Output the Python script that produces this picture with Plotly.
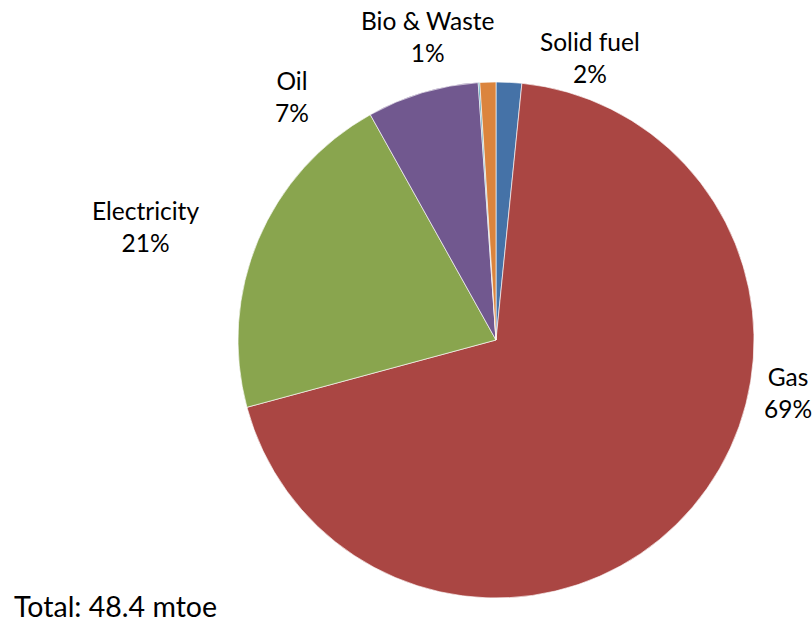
import plotly.graph_objects as go

# Final energy consumption shares by fuel (%)
fuels = ["Solid fuel", "Gas", "Electricity", "Oil", "Heat", "Bio & Waste"]
shares = [1.6, 69.2, 21.1, 7.0, 0.1, 1.0]
colors = ["#4572A7", "#AA4643", "#89A54E", "#71588F", "#4198AF", "#DB843D"]
show_label = [True, True, True, True, False, True]
total_mtoe = 48.4

W, H = 812, 624
FONT = "Lato"

# label anchor points in pixels (centre of each two-line label)
label_pos = {
    "Solid fuel": (590, 57),
    "Gas": (788, 392),
    "Electricity": (145, 226),
    "Oil": (292, 96),
    "Bio & Waste": (427, 36),
}

fig = go.Figure(
    go.Pie(
        labels=fuels,
        values=shares,
        sort=False,
        direction="clockwise",
        rotation=0,
        marker=dict(colors=colors, line=dict(color="rgba(255,255,255,0.8)", width=0.8)),
        textinfo="none",
        hoverinfo="label+percent",
        showlegend=False,
        domain=dict(x=[238 / W, 754 / W], y=[(H - 598) / H, (H - 82) / H]),
    )
)

tot = sum(shares)
annotations = []
for name, val, show in zip(fuels, shares, show_label):
    if not show:
        continue
    px, py = label_pos[name]
    annotations.append(
        dict(
            x=px / W, y=1 - py / H, xref="paper", yref="paper",
            text=f"{name}<br>{round(val / tot * 100):d}%",
            showarrow=False, xanchor="center", yanchor="middle",
            font=dict(family=FONT, size=24.5, color="#000000"),
        )
    )

annotations.append(
    dict(
        x=12 / W, y=1 - 606 / H, xref="paper", yref="paper",
        text=f"Total: {total_mtoe} mtoe",
        showarrow=False, xanchor="left", yanchor="middle",
        font=dict(family=FONT, size=28.5, color="#000000"),
    )
)

fig.update_layout(
    width=W, height=H,
    margin=dict(l=0, r=0, t=0, b=0),
    paper_bgcolor="white",
    plot_bgcolor="white",
    annotations=annotations,
)

fig.write_html("out.html")
